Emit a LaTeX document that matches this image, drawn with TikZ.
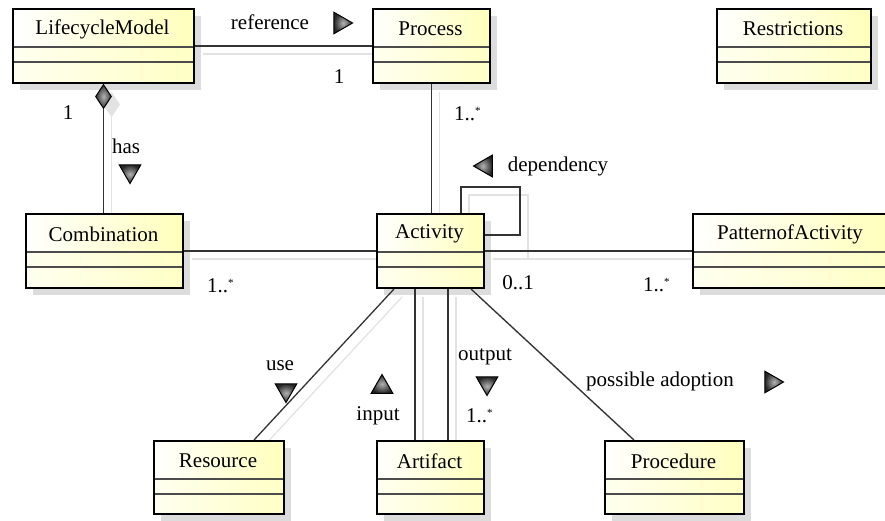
\documentclass[tikz,border=0pt]{standalone}
\usepackage{fontspec}
\setmainfont{Liberation Serif}
\newfontfamily\tnr{Liberation Serif}
\usetikzlibrary{shapes.geometric,calc}
\pgfdeclarelayer{bottomlayer}
\pgfdeclarelayer{shadowlayer}
\pgfsetlayers{bottomlayer,shadowlayer,main}
\definecolor{hdr}{HTML}{FFFFBC}
\definecolor{cmpL}{HTML}{FFFFF0}
\definecolor{cmpR}{HTML}{FFFFC6}
\definecolor{shad}{HTML}{DCDCDC}
\definecolor{lineshad}{HTML}{E2E2E2}
\tikzset{
  lbl/.style={font=\tnr\fontsize{21}{24}\selectfont, inner sep=0pt},
  conn/.style={draw=black!80, line width=1.3pt},
  connshadow/.style={draw=lineshad, line width=1.2pt},
  classframe/.style={draw=black, line width=2pt, inner sep=0pt},
  divider/.style={draw=black!70, line width=1.1pt},
  marktri/.style={regular polygon, regular polygon sides=3, minimum size=25pt, inner sep=0pt, draw=black, line width=1pt, inner color=gray!60, outer color=black!85},
}
\newcommand{\umlclass}[6]{%
  \begin{pgfonlayer}{shadowlayer}
  \fill[shad] (#2+8,#3+8) rectangle (#4+8,#5+8);
  \end{pgfonlayer}
  \shade[left color=white, right color=hdr] (#2,#3) rectangle (#4,#3+39);
  \shade[left color=cmpL, right color=cmpR] (#2,#3+39) rectangle (#4,#5);
  \draw[divider] (#2,#3+39) -- (#4,#3+39) (#2,#3+54) -- (#4,#3+54);
  \node[classframe, anchor=north west, minimum width={(#4-#2)*1pt}, minimum height={(#5-#3)*1pt}] (#1) at (#2,#3) {};
  \node[lbl] (#1-name) at ({(#2+#4)/2},#3+21) {#6};
}
\newcommand{\mstar}{1..\raisebox{6pt}{\fontsize{11}{11}\selectfont *}}
\begin{document}
\begin{tikzpicture}[x=1pt,y=-1pt]
\begin{pgfonlayer}{bottomlayer}
\fill[white] (0,0) rectangle (885,520);
\end{pgfonlayer}
\useasboundingbox (0,0) rectangle (885,520);
\clip (0,0) rectangle (885,520);

\umlclass{lm}{12}{8}{193}{82}{LifecycleModel}
\umlclass{proc}{372}{8}{489}{82}{Process}
\umlclass{restr}{716}{8}{870}{82}{Restrictions}
\umlclass{comb}{25}{213}{182}{287}{Combination}
\umlclass{act}{376}{213}{483}{287}{Activity}
\umlclass{pat}{692}{213}{888}{287}{PatternofActivity}
\umlclass{res}{153}{440}{283}{513}{Resource}
\umlclass{art}{376}{440}{483}{513}{Artifact}
\umlclass{pdr}{604}{440}{743}{513}{Procedure}

% aggregation diamond
\node[diamond, anchor=north, inner sep=0pt, minimum width=16pt, minimum height=24pt, draw=black, line width=1pt, inner color=gray!60, outer color=black!80] (dia) at (lm.south) {};

% connector shadows
\begin{pgfonlayer}{shadowlayer}
\draw[connshadow] ([shift={(8,8)}]lm.east) -- ([shift={(8,8)}]proc.west);
\draw[connshadow] ([shift={(8,8)}]dia.south) -- ([shift={(8,0)}]dia.south |- comb.north);
\fill[lineshad] ([shift={(8,8)}]dia.north) -- ([shift={(8,8)}]dia.east) -- ([shift={(8,8)}]dia.south) -- ([shift={(8,8)}]dia.west) -- cycle;
\draw[connshadow] ([shift={(8,8)}]proc.south) -- ([shift={(8,0)}]proc.south |- act.north);
\draw[connshadow] ([shift={(8,8)}]comb.east) -- ([shift={(0,8)}]act.west);
\draw[connshadow] ([shift={(8,8)}]act.east) -- ([shift={(0,8)}]pat.west);
\draw[connshadow] ([shift={(38.5,8)}]act.north) -- ++(0,-26) -- ++(59,0) |- ([shift={(8,8)}]act.east);
\draw[connshadow] ([shift={(-28.5,8)}]act.south) -- ([shift={(43,8)}]res.north);
\draw[connshadow] ([shift={(-7.5,8)}]act.south) -- ([shift={(-7.5,0)}]art.north);
\draw[connshadow] ([shift={(25.5,8)}]act.south) -- ([shift={(25.5,0)}]art.north);
\draw[connshadow] ([shift={(48.5,8)}]act.south) -- ([shift={(-32.5,8)}]pdr.north);
\end{pgfonlayer}

% connectors
\draw[conn] (lm.east) -- (proc.west);
\draw[conn] (dia.south) -- (dia.south |- comb.north);
\draw[conn] (proc.south) -- (proc.south |- act.north);
\draw[conn] (comb.east) -- (act.west);
\draw[conn] (act.east) -- (pat.west);
\draw[conn] ([xshift=30.5pt]act.north) -- ++(0,-26) -- ++(59,0) |- ([yshift=16pt]act.east);
\draw[conn] ([xshift=-36.5pt]act.south) -- ([xshift=35pt]res.north);
\draw[conn] ([xshift=-15.5pt]act.south) -- ([xshift=-15.5pt]art.north);
\draw[conn] ([xshift=17.5pt]act.south) -- ([xshift=17.5pt]art.north);
\draw[conn] ([xshift=40.5pt]act.south) -- ([xshift=-40.5pt]pdr.north);

% labels
\node[lbl] (reflbl) at (270,22) {reference};
\node[marktri, shape border rotate=-90] (reftri) at (340,23) {};
\node[lbl] (m1) at (339,77) {1};
\node[lbl] (m2) at (68,113) {1};
\node[lbl] (haslbl) at (126,146) {has};
\node[marktri, shape border rotate=180] (hastri) at (130,171) {};
\node[lbl, anchor=base west] (m3) at (454,120) {\mstar};
\node[marktri, shape border rotate=90] (deptri) at (486,166) {};
\node[lbl] (deplbl) at (558,166) {dependency};
\node[lbl, anchor=base west] (m4) at (207,292) {\mstar};
\node[lbl] (m5) at (518,283) {0..1};
\node[lbl, anchor=base west] (m6) at (643,291) {\mstar};
\node[lbl] (uselbl) at (280,366) {use};
\node[marktri, shape border rotate=180] (usetri) at (286,390) {};
\node[marktri] (intri) at (382,387) {};
\node[lbl] (inlbl) at (378,416) {input};
\node[lbl] (outlbl) at (485,357) {output};
\node[marktri, shape border rotate=180] (outtri) at (487,383) {};
\node[lbl, anchor=base west] (m7) at (466,422) {\mstar};
\node[lbl] (adlbl) at (660,381) {possible adoption};
\node[marktri, shape border rotate=-90] (adtri) at (771,382) {};
\end{tikzpicture}
\end{document}
